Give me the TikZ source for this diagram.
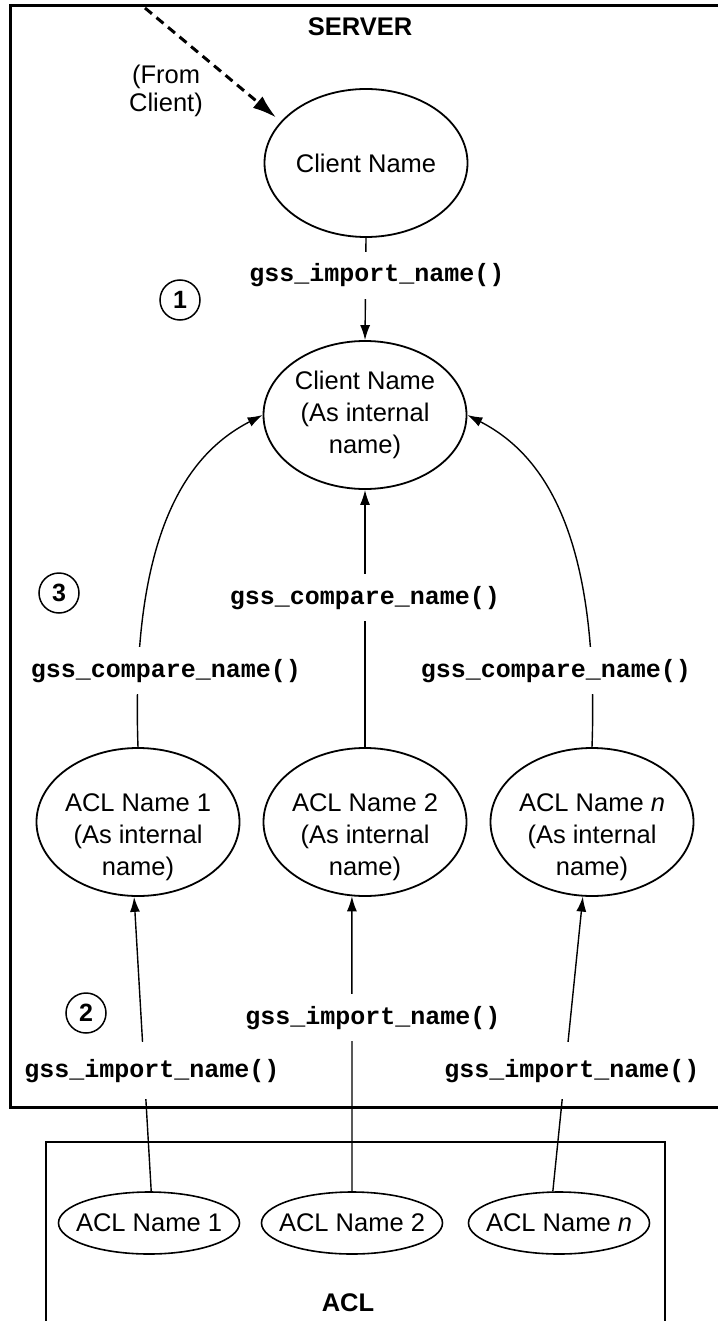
\documentclass[tikz,border=0pt]{standalone}
\usepackage{fontspec}
\setmainfont{Liberation Sans}
\setmonofont{Liberation Mono}
\usetikzlibrary{arrows.meta,shapes.geometric}
\begin{document}
\begin{tikzpicture}[x=1pt,y=-1pt,
  every node/.style={font=\fontsize{25.5}{32}\selectfont},
  ell/.style={draw, ellipse, line width=1.8pt, inner sep=0pt, align=center,
    minimum width=203pt, minimum height=148pt},
  lab/.style={align=center, yshift=-15pt, font=\fontsize{25.5}{32}\selectfont},
  sell/.style={draw, ellipse, line width=1.6pt, inner sep=0pt,
    minimum width=181pt, minimum height=62pt},
  fn/.style={font=\fontsize{25}{30}\selectfont\ttfamily\bfseries, fill=white,
    inner xsep=2pt, inner ysep=12pt, anchor=base},
  num/.style={draw, circle, line width=1.5pt, minimum size=40pt, inner sep=0pt,
    font=\fontsize{25}{30}\selectfont\bfseries},
  conn/.style={line width=1.4pt},
  arr/.style={conn, -{Latex[length=15pt,width=10pt]}},
  ]
\useasboundingbox (0,0) rectangle (717,1321);

% titles
\node[font=\fontsize{25.5}{30}\selectfont\bfseries] (server) at (360,27) {SERVER};
\node[align=center, font=\fontsize{25.5}{28}\selectfont] (from) at (166,91) {(From\\Client)};

% ellipses in server
\node[ell] (cn) at (366,163) {Client Name};
\node[ell] (ci) at (365,415) {Client Name\\(As internal\\name)};
\node[ell, label={[lab]center:{ACL Name 1\\(As internal\\name)}}] (a1) at (138,822) {};
\node[ell, label={[lab]center:{ACL Name 2\\(As internal\\name)}}] (a2) at (365,822) {};
\node[ell, label={[lab]center:{ACL Name \textit{n}\\(As internal\\name)}}] (an) at (592,822) {};

% ACL ellipses
\node[sell, label={center:{ACL Name 1}}] (s1) at (149,1223) {};
\node[sell, label={center:{ACL Name 2}}] (s2) at (352,1223) {};
\node[sell, label={center:{ACL Name \textit{n}}}] (sn) at (559,1223) {};

% circled numbers
\node[num] (n1) at (180,300) {1};
\node[num] (n3) at (59,593) {3};
\node[num] (n2) at (86,1013) {2};

% dashed incoming arrow
\coordinate (fc) at (145,8);
\draw[line width=3pt, dash pattern=on 9pt off 6pt, -{Latex[length=24pt,width=15pt]},
  shorten >=6pt] (fc) -- (cn.154);

% connectors
\draw[arr] (cn.south) -- (ci.north);
\draw[arr] (a2.north) -- (ci.south);
\draw[arr] (a1.north) .. controls (130,520) and (195,450) .. (ci.west);
\draw[arr] (an.north) .. controls (600,520) and (535,450) .. (ci.east);
\draw[arr] (s1.86) -- (a1.267);
\draw[arr] (s2.north) -- (a2.260);
\draw[arr] (sn.101) -- (an.263);

% function labels
\node[fn] (l1) at (377,282) {gss\_import\_name()};
\node[fn] (l3m) at (365,604) {gss\_compare\_name()};
\node[fn] (l3l) at (166,677) {gss\_compare\_name()};
\node[fn] (l3r) at (556,677) {gss\_compare\_name()};
\node[fn] (l2m) at (373,1024) {gss\_import\_name()};
\node[fn, inner ysep=17pt] (l2l) at (152,1077) {gss\_import\_name()};
\node[fn, inner ysep=17pt] (l2r) at (572,1077) {gss\_import\_name()};

% boxes
\draw[line width=3pt] (740,5.5) -- (10.5,5.5) -- (10.5,1107) -- (740,1107);
\draw[line width=1.2pt] (46,1340) -- (46,1142) -- (665,1142) -- (665,1340);
\node[font=\fontsize{25.5}{30}\selectfont\bfseries] (acl) at (348,1303) {ACL};
\end{tikzpicture}
\end{document}
